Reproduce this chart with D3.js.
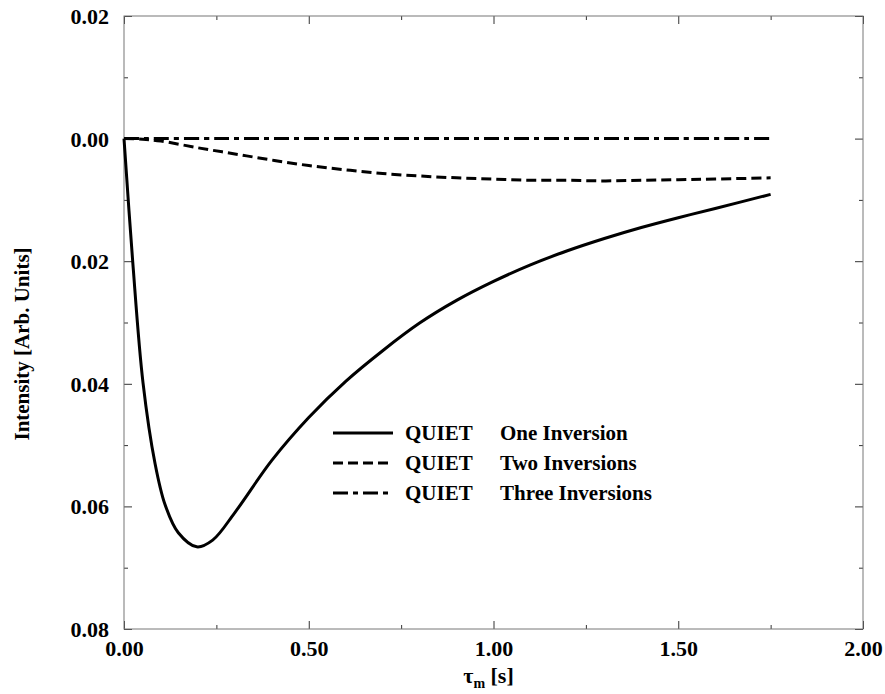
<!DOCTYPE html>
<html>
<head>
<meta charset="utf-8">
<script src="https://cdn.jsdelivr.net/npm/d3@7"></script>
<style>
  body { margin: 0; background: #fff; }
  svg text { font-family: "Liberation Serif", "Times New Roman", Times, "DejaVu Serif", serif !important; font-weight: bold; }
</style>
</head>
<body>
<div id="chart"></div>
<script>
// Datos
const xTicks = [0, 0.5, 1.0, 1.5, 2.0];
const xTickLabels = ["0.00", "0.50", "1.00", "1.50", "2.00"];
const xMinor = [0.25, 0.75, 1.25, 1.75];
const yTicks = [0.02, 0, -0.02, -0.04, -0.06, -0.08];
const yTickLabels = ["0.02", "0.00", "0.02", "0.04", "0.06", "0.08"];
const yMinor = [0.01, -0.01, -0.03, -0.05, -0.07];

// QUIET One Inversion
const oneX = [0, 0.0235, 0.0514, 0.084, 0.111, 0.147, 0.197, 0.24, 0.3, 0.4, 0.5, 0.6, 0.7, 0.8, 0.9, 1.0, 1.1, 1.2, 1.3, 1.4, 1.5, 1.6, 1.75];
const oneY = [0, -0.0200, -0.0398, -0.0530, -0.0597, -0.0643, -0.0666, -0.0655, -0.0610, -0.0525, -0.0455, -0.0396, -0.0346, -0.0301, -0.0264, -0.0233, -0.0206, -0.0183, -0.0163, -0.0145, -0.0129, -0.0114, -0.0091];
// QUIET Two Inversions
const twoX = [0, 0.05, 0.1, 0.2, 0.3, 0.4, 0.5, 0.6, 0.7, 0.8, 0.9, 1.0, 1.1, 1.2, 1.3, 1.4, 1.5, 1.6, 1.75];
const twoY = [0, -0.0001, -0.0004, -0.0015, -0.0025, -0.0035, -0.0044, -0.0051, -0.0057, -0.0061, -0.0064, -0.0066, -0.0068, -0.0068, -0.0069, -0.0068, -0.0067, -0.0066, -0.0064];
// QUIET Three Inversions
const threeX = [0, 0.25, 0.5, 0.75, 1.0, 1.25, 1.5, 1.75];
const threeY = [0, 0, 0, 0, 0, 0, 0, 0];

const series = [
  { name: "One Inversion", xs: oneX, ys: oneY, dash: null },
  { name: "Two Inversions", xs: twoX, ys: twoY, dash: "10,5" },
  { name: "Three Inversions", xs: threeX, ys: threeY, dash: "15,5,5,5" }
];

const width = 885, height = 694;
const margin = { top: 16, right: 22, bottom: 65, left: 124 };
const iw = width - margin.left - margin.right;
const ih = height - margin.top - margin.bottom;
const serif = '"Liberation Serif", "Times New Roman", Times, "DejaVu Serif", serif';

const svg = d3.select("#chart").append("svg")
  .attr("width", width)
  .attr("height", height);

const g = svg.append("g")
  .attr("transform", `translate(${margin.left},${margin.top})`);

const x = d3.scaleLinear().domain([0, 2]).range([0, iw]);
const y = d3.scaleLinear().domain([0.02, -0.08]).range([0, ih]);

// Ejes con marcas hacia dentro
function styleAxis(sel) {
  sel.attr("font-family", serif);
  sel.select(".domain").remove();
  sel.selectAll("line").attr("stroke", "#333").attr("stroke-width", 1);
  sel.selectAll("text").attr("font-size", 22).attr("fill", "#000");
}

const bottom = g.append("g").attr("transform", `translate(0,${ih})`)
  .call(d3.axisBottom(x).tickValues(xTicks).tickSize(-8)
    .tickFormat((d, i) => xTickLabels[i]));
styleAxis(bottom);
bottom.selectAll("text").attr("y", 27).attr("dy", 0);

g.append("g").attr("transform", `translate(0,${ih})`)
  .call(d3.axisBottom(x).tickValues(xMinor).tickSize(-4).tickFormat(""))
  .call(styleAxis);

g.append("g")
  .call(d3.axisTop(x).tickValues(xTicks).tickSize(-8).tickFormat(""))
  .call(styleAxis);
g.append("g")
  .call(d3.axisTop(x).tickValues(xMinor).tickSize(-4).tickFormat(""))
  .call(styleAxis);

const left = g.append("g")
  .call(d3.axisLeft(y).tickValues(yTicks).tickSize(-8)
    .tickFormat((d, i) => yTickLabels[i]));
styleAxis(left);
left.selectAll("text").attr("x", -15).attr("dy", "0.34em");

g.append("g")
  .call(d3.axisLeft(y).tickValues(yMinor).tickSize(-4).tickFormat(""))
  .call(styleAxis);

g.append("g").attr("transform", `translate(${iw},0)`)
  .call(d3.axisRight(y).tickValues(yTicks).tickSize(-8).tickFormat(""))
  .call(styleAxis);
g.append("g").attr("transform", `translate(${iw},0)`)
  .call(d3.axisRight(y).tickValues(yMinor).tickSize(-4).tickFormat(""))
  .call(styleAxis);

// Marco
g.append("rect")
  .attr("width", iw).attr("height", ih)
  .attr("fill", "none").attr("stroke", "#777").attr("stroke-width", 1);

// Curvas
const line = d3.line()
  .x(d => x(d[0]))
  .y(d => y(d[1]))
  .curve(d3.curveCatmullRom.alpha(0.5));

series.forEach(s => {
  g.append("path")
    .datum(s.xs.map((v, i) => [v, s.ys[i]]))
    .attr("fill", "none")
    .attr("stroke", "#000")
    .attr("stroke-width", 3)
    .attr("stroke-linejoin", "round")
    .attr("stroke-dasharray", s.dash)
    .attr("d", line);
});

// Leyenda
const legend = svg.append("g").attr("transform", "translate(333,433)")
  .attr("font-family", serif);
series.forEach((s, i) => {
  const row = legend.append("g").attr("transform", `translate(0,${i * 30})`);
  row.append("line")
    .attr("x1", 0).attr("x2", 60)
    .attr("stroke", "#000").attr("stroke-width", 3)
    .attr("stroke-dasharray", s.dash);
  row.append("text").attr("x", 72).attr("y", 7).attr("font-size", 21).text("QUIET");
  row.append("text").attr("x", 167).attr("y", 7).attr("font-size", 21).text(s.name);
});

// Titulos de ejes
const xt = svg.append("text")
  .attr("x", margin.left + iw / 2 - 5)
  .attr("y", 683)
  .attr("text-anchor", "middle")
  .attr("font-family", serif)
  .attr("font-size", 22);
xt.append("tspan").text("\u03C4");
xt.append("tspan").attr("font-size", 14).attr("dy", 5).text("m");
xt.append("tspan").attr("dy", -5).text(" [s]");

svg.append("text")
  .attr("transform", "translate(29,344) rotate(-90)")
  .attr("text-anchor", "middle")
  .attr("font-family", serif)
  .attr("font-size", 21)
  .text("Intensity [Arb. Units]");
</script>
</body>
</html>
